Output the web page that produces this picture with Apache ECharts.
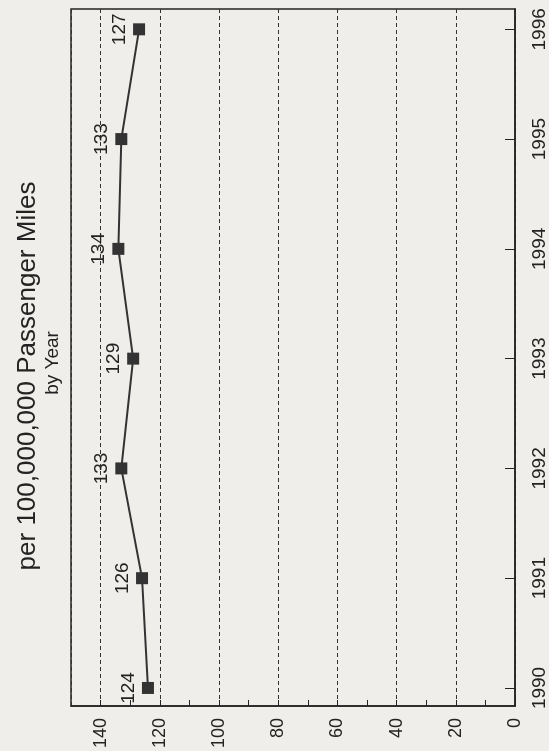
<!DOCTYPE html>
<html>
<head>
<meta charset="utf-8">
<script src="https://cdn.jsdelivr.net/npm/echarts@6/dist/echarts.min.js"></script>
<style>
html,body{margin:0;padding:0;background:#efeeea;}
#chart{width:549px;height:751px;}
</style>
</head>
<body>
<div id="chart"></div>
<script>
var titleText = 'per 100,000,000 Passenger Miles';
var subtitleText = 'by Year';
var years = [1990, 1991, 1992, 1993, 1994, 1995, 1996];
var values = [124, 126, 133, 129, 134, 133, 127];
var valueTickLabels = [0, 20, 40, 60, 80, 100, 120, 140];
var valueMinorTicks = [0, 10, 20, 30, 40, 50, 60, 70, 80, 90, 100, 110, 120, 130, 140];

var chart = echarts.init(document.getElementById('chart'), null, {renderer: 'canvas'});
var fontFam = '"Liberation Sans", Arial, Helvetica, sans-serif';
var ink = '#232323';

var option = {
  backgroundColor: '#efeeea',
  animation: false,
  grid: {
    left: 71, right: 32, top: 9, bottom: 45,
    show: true, borderColor: ink, borderWidth: 1.5, backgroundColor: 'transparent'
  },
  graphic: [
    {
      type: 'text', x: 28, y: 376, rotation: Math.PI / 2,
      style: {text: titleText, font: '26px ' + fontFam, fill: ink, align: 'center', verticalAlign: 'middle'}
    },
    {
      type: 'text', x: 53, y: 363, rotation: Math.PI / 2,
      style: {text: subtitleText, font: '19px ' + fontFam, fill: ink, align: 'center', verticalAlign: 'middle'}
    }
  ],
  xAxis: [{
    type: 'value', position: 'bottom', inverse: true,
    min: 0, max: 150, interval: 20,
    axisLine: {show: true, lineStyle: {color: ink, width: 1.5}},
    axisTick: {show: true, inside: true, length: 6, customValues: valueMinorTicks, lineStyle: {color: ink, width: 1}},
    axisLabel: {
      show: true, rotate: 90, margin: 12, customValues: valueTickLabels,
      fontFamily: fontFam, fontSize: 18, color: ink
    },
    splitLine: {show: false}
  }, {
    type: 'value', position: 'bottom', inverse: true,
    min: 0, max: 150, interval: 20,
    axisLine: {show: false}, axisTick: {show: false}, axisLabel: {show: false},
    splitLine: {show: true, lineStyle: {color: '#333', type: [4, 3], width: 1}}
  }],
  yAxis: {
    type: 'value', position: 'right',
    min: 1989.836, max: 1996.185,
    axisLine: {show: true, lineStyle: {color: ink, width: 1.5}},
    axisTick: {show: true, inside: true, length: 10, customValues: years, lineStyle: {color: ink, width: 1}},
    axisLabel: {
      show: true, rotate: 90, margin: 15, customValues: years,
      fontFamily: fontFam, fontSize: 19, color: ink,
      formatter: function (v) { return String(Math.round(v)); }
    },
    splitLine: {show: false}
  },
  series: [{
    type: 'line',
    xAxisIndex: 0,
    data: years.map(function (y, i) { return [values[i], y]; }),
    lineStyle: {color: '#333', width: 2},
    itemStyle: {color: '#333'},
    symbol: 'rect', symbolSize: 12,
    label: {
      show: true, position: 'left', distance: 4, rotate: 90,
      align: 'center', verticalAlign: 'bottom',
      fontFamily: fontFam, fontSize: 19, color: ink,
      formatter: function (p) { return String(p.value[0]); }
    }
  }]
};
chart.setOption(option);
</script>
</body>
</html>
